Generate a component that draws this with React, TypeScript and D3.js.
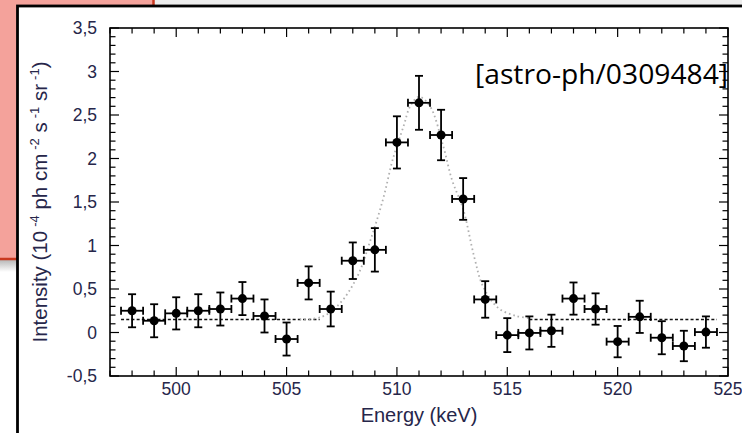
import React from "react";
import * as d3 from "d3";

const energies = [498, 499, 500, 501, 502, 503, 504, 505, 506, 507, 508, 509, 510, 511, 512, 513, 514, 515, 516, 517, 518, 519, 520, 521, 522, 523, 524];
const intensity = [0.25, 0.135, 0.22, 0.25, 0.27, 0.39, 0.19, -0.075, 0.57, 0.27, 0.825, 0.95, 2.185, 2.64, 2.27, 1.535, 0.38, -0.03, -0.005, 0.02, 0.39, 0.27, -0.105, 0.18, -0.06, -0.155, 0.005];
const intensityErr = [0.19, 0.19, 0.185, 0.19, 0.19, 0.19, 0.19, 0.19, 0.19, 0.2, 0.21, 0.25, 0.3, 0.31, 0.29, 0.24, 0.21, 0.195, 0.19, 0.185, 0.185, 0.18, 0.18, 0.185, 0.19, 0.175, 0.18];
const binHalfWidth = 0.5;

const baselineLevel = 0.15;
const baselineSegments = [[497.5, 506.5], [516.0, 524.5]];

const fitEnergy = [505.6, 506.6, 507.4, 508.2, 508.8, 509.4, 509.8, 510.3, 510.6, 511.0, 511.5, 512.1, 512.5, 513.0, 513.5, 513.9, 514.6, 515.4, 516.0];
const fitIntensity = [0.15, 0.18, 0.33, 0.64, 1.06, 1.56, 1.98, 2.37, 2.6, 2.71, 2.6, 2.14, 1.75, 1.42, 0.87, 0.53, 0.28, 0.19, 0.165];

const xMajorTicks = [500, 505, 510, 515, 520, 525];
const yMajorTicks = [-0.5, 0, 0.5, 1, 1.5, 2, 2.5, 3, 3.5];

const fmtY = (v: number) => String(v).replace(".", ",");

export default function App() {
  const W = 742, H = 433;
  const L = 110, R = 728, T = 28, B = 376;
  const x = d3.scaleLinear().domain([497, 525]).range([L, R]);
  const y = d3.scaleLinear().domain([-0.5, 3.5]).range([B, T]);

  const xMinor = d3.range(497, 526, 1);
  const yMinor = d3.range(-5, 36, 1).map((v) => v / 10);

  const majorLen = 9, minorLen = 5.5;
  const lineGen = d3.line<[number, number]>().x((d) => x(d[0])).y((d) => y(d[1])).curve(d3.curveCatmullRom.alpha(0.5));
  const fitPath = lineGen(fitEnergy.map((e, i) => [e, fitIntensity[i]] as [number, number])) || "";

  const tickColor = "#26264a";
  const font = "'Liberation Sans', Arial, sans-serif";

  return (
    <svg width={W} height={H} style={{ position: "absolute", left: 0, top: 0 }} xmlns="http://www.w3.org/2000/svg">
      <defs>
        <linearGradient id="shadow" x1="0" y1="0" x2="0" y2="1">
          <stop offset="0" stopColor="#b8b8b8" />
          <stop offset="1" stopColor="#ffffff" />
        </linearGradient>
      </defs>
      <rect x={0} y={0} width={W} height={H} fill="#ffffff" />
      <rect x={0} y={0} width={W} height={6} fill="#ececec" />
      <rect x={0} y={260} width={20} height={12} fill="url(#shadow)" />
      <rect x={0} y={0} width={153} height={258} fill="#f4a29b" />
      <line x1={153.5} y1={0} x2={153.5} y2={259.5} stroke="#c9381f" strokeWidth={2.5} />
      <line x1={0} y1={259} x2={154} y2={259} stroke="#c9381f" strokeWidth={2.5} />

      {/* white slide box */}
      <rect x={17.5} y={6} width={W} height={H} fill="#ffffff" stroke="#000" strokeWidth={2.8} />

      {/* ticks */}
      <g stroke="#000" strokeWidth={1.2}>
        {xMinor.map((v) => {
          const len = v % 5 === 0 ? majorLen : minorLen;
          return (
            <g key={"xt" + v}>
              <line x1={x(v)} x2={x(v)} y1={B} y2={B - len} />
              <line x1={x(v)} x2={x(v)} y1={T} y2={T + len} />
            </g>
          );
        })}
        {yMinor.map((v) => {
          const len = Math.round(v * 10) % 5 === 0 ? majorLen : minorLen;
          return (
            <g key={"yt" + v}>
              <line x1={L} x2={L + len} y1={y(v)} y2={y(v)} />
              <line x1={R} x2={R - len} y1={y(v)} y2={y(v)} />
            </g>
          );
        })}
      </g>
      <rect x={L} y={T} width={R - L} height={B - T} fill="none" stroke="#000" strokeWidth={1.6} />

      {/* tick labels */}
      <g fontFamily={font} fontSize={17.5} fill={tickColor}>
        {xMajorTicks.map((v) => (
          <text key={"xl" + v} x={x(v)} y={B + 19} textAnchor="middle">{v}</text>
        ))}
        {yMajorTicks.map((v) => (
          <text key={"yl" + v} x={L - 13} y={y(v) + 6} textAnchor="end">{fmtY(v)}</text>
        ))}
      </g>

      {/* axis titles */}
      <text x={(L + R) / 2} y={422} textAnchor="middle" fontFamily={font} fontSize={20} fill={tickColor}>Energy (keV)</text>
      <text transform={`translate(46.5,${(T + B) / 2}) rotate(-90)`} textAnchor="middle" fontFamily={font} fontSize={20.5} fill={tickColor}>
        Intensity (10<tspan dx={4} dy={-8} fontSize={13}>-4</tspan><tspan dy={8}> ph cm</tspan><tspan dx={4} dy={-8} fontSize={13}>-2</tspan><tspan dy={8}> s</tspan><tspan dx={4} dy={-8} fontSize={13}>-1</tspan><tspan dy={8}> sr</tspan><tspan dx={4} dy={-8} fontSize={13}>-1</tspan><tspan dy={8}>)</tspan>
      </text>

      {/* model */}
      {baselineSegments.map((s, i) => (
        <line key={"bs" + i} x1={x(s[0])} x2={x(s[1])} y1={y(baselineLevel)} y2={y(baselineLevel)} stroke="#111" strokeWidth={1.4} strokeDasharray="3 2.2" />
      ))}
      <path d={fitPath} fill="none" stroke="#b0b0b0" strokeWidth={1.8} strokeDasharray="1.6 3" />

      {/* data */}
      <g stroke="#000" strokeWidth={1.8} fill="#000">
        {energies.map((e, i) => {
          const cx = x(e), cy = y(intensity[i]);
          const y0 = y(intensity[i] - intensityErr[i]), y1 = y(intensity[i] + intensityErr[i]);
          const x0 = x(e - binHalfWidth), x1 = x(e + binHalfWidth);
          const cap = 4;
          return (
            <g key={"p" + e}>
              <line x1={cx} x2={cx} y1={y0} y2={y1} />
              <line x1={cx - cap} x2={cx + cap} y1={y0} y2={y0} />
              <line x1={cx - cap} x2={cx + cap} y1={y1} y2={y1} />
              <line x1={x0} x2={x1} y1={cy} y2={cy} />
              <line x1={x0} x2={x0} y1={cy - cap} y2={cy + cap} />
              <line x1={x1} x2={x1} y1={cy - cap} y2={cy + cap} />
              <circle cx={cx} cy={cy} r={4.5} stroke="none" />
            </g>
          );
        })}
      </g>

      <text x={475} y={84} fontFamily="'Open Sans', sans-serif" fontSize={28} fill="#000" textLength={253} lengthAdjust="spacingAndGlyphs">[astro-ph/0309484]</text>
    </svg>
  );
}
